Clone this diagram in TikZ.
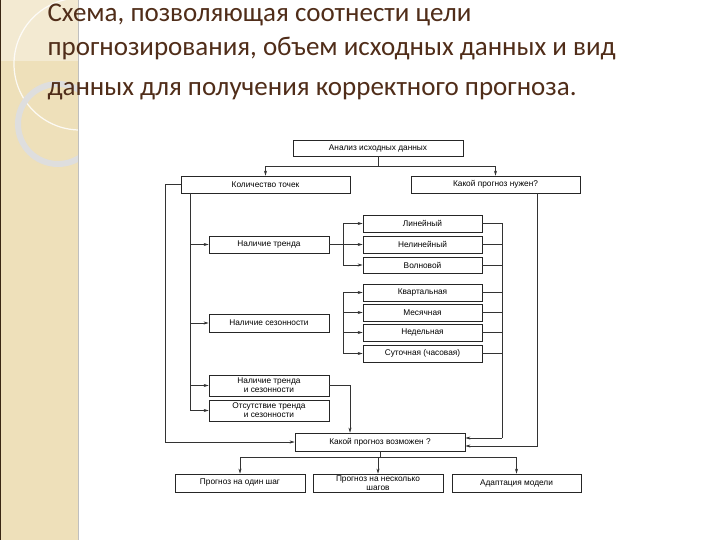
\documentclass[tikz,border=0pt]{standalone}
\usepackage{fontspec}
\setmainfont{Liberation Sans}
\newfontfamily\titlefont{Carlito}
\usetikzlibrary{arrows.meta}
\definecolor{beige}{RGB}{238,224,186}
\definecolor{titlebrown}{RGB}{80,45,25}
\begin{document}
\begin{tikzpicture}[x=1pt,y=-1pt,
  bx/.style={draw=black!85,line width=0.7pt,fill=white,inner sep=0pt,font=\fontsize{8.3}{9}\selectfont,align=center},
  ln/.style={draw=black!80,line width=0.6pt},
  ar/.style={ln,-{Stealth[length=5pt,width=3pt]}},
  tt/.style={anchor=west,text=titlebrown,font=\titlefont\fontsize{27}{30}\selectfont}]
\useasboundingbox (0,0) rectangle (720,540);
\fill[white] (0,0) rectangle (720,540);
% left panel
\fill[beige] (0,0) rectangle (78,540);
\begin{scope}
\clip (0,0) rectangle (78,540);
\fill[white,opacity=0.35] (0,0) rectangle (78,61);
\draw[white,line width=1.2pt,opacity=0.85] (80,64) circle[radius=66];
\draw[black!13,line width=6pt] (58,124) circle[radius=40];
\end{scope}
\draw[black!70!brown,line width=0.8pt] (0.5,0) -- (0.5,540);
\draw[black!25,line width=1pt] (78,0) -- (78,540);
% title
\node[tt] (t1) at (44,15) {Схема, позволяющая соотнести цели};
\node[tt] (t2) at (44,49) {прогнозирования, объем исходных данных и вид};
\node[tt] (t3) at (44,91) {данных для получения корректного прогноза.};
% boxes
\node[bx,minimum width=170,minimum height=16] (a) at (378,148) {Анализ исходных данных};
\node[bx,minimum width=169,minimum height=17] (k) at (265.5,184.5) {Количество точек};
\node[bx,minimum width=169,minimum height=17] (n) at (495.5,184.5) {Какой прогноз нужен?};
\node[bx,minimum width=120,minimum height=17] (tr) at (269,244.5) {Наличие тренда};
\node[bx,minimum width=119,minimum height=17] (l1) at (422.5,223.5) {Линейный};
\node[bx,minimum width=119,minimum height=17] (l2) at (422.5,244.5) {Нелинейный};
\node[bx,minimum width=119,minimum height=16] (l3) at (422.5,265) {Волновой};
\node[bx,minimum width=119,minimum height=17] (s1) at (422.5,292.5) {Квартальная};
\node[bx,minimum width=119,minimum height=17] (s2) at (422.5,312.5) {Месячная};
\node[bx,minimum width=119,minimum height=17] (s3) at (422.5,332.5) {Недельная};
\node[bx,minimum width=119,minimum height=17] (s4) at (422.5,353.5) {Суточная (часовая)};
\node[bx,minimum width=120,minimum height=18] (se) at (269,323) {Наличие сезонности};
\node[bx,minimum width=120,minimum height=21] (ts) at (269,385.5) {Наличие тренда\\и сезонности};
\node[bx,minimum width=120,minimum height=21] (ot) at (269,410.5) {Отсутствие тренда\\и сезонности};
\node[bx,minimum width=170,minimum height=18] (v) at (380,442) {Какой прогноз возможен ?};
\node[bx,minimum width=130,minimum height=18] (o1) at (240,483) {Прогноз на один шаг};
\node[bx,minimum width=130,minimum height=18] (o2) at (378,483) {Прогноз на несколько\\шагов};
\node[bx,minimum width=129,minimum height=18] (o3) at (516.5,483) {Адаптация модели};
% connectors
\coordinate (a1) at (378,166);
\draw[ln] (a.south) -- (a1);
\draw[ar] (a1) -| (k.north);
\draw[ar] (a1) -| (n.north);
\draw[ar] (k.west) -| (165,442) -- (v.west);
\coordinate (kb) at (190,193);
\draw[ln] (kb) -- (190,410.5);
\draw[ar] (190,244.5) -- (tr.west);
\draw[ar] (190,323) -- (se.west);
\draw[ar] (190,385.5) -- (ts.west);
\draw[ar] (190,410.5) -- (ot.west);
\draw[ln] (tr.east) -- (343,244.5);
\draw[ln] (343,223.5) -- (343,265);
\draw[ar] (343,223.5) -- (l1.west);
\draw[ar] (343,244.5) -- (l2.west);
\draw[ar] (343,265) -- (l3.west);
\draw[ln] (343,292.5) -- (343,353.5);
\draw[ar] (343,292.5) -- (s1.west);
\draw[ar] (343,312.5) -- (s2.west);
\draw[ar] (343,332.5) -- (s3.west);
\draw[ar] (343,353.5) -- (s4.west);
\foreach \b in {l1,l2,l3,s1,s2,s3,s4} {\draw[ln] (\b.east) -- (502,0|-\b.east);}
\draw[ln] (502,223.5) -- (502,438);
\draw[ar] (502,438) -- (v.east|-0,438);
\draw[ar] (n.south -| 537,0) -- (537,446) -- (v.east|-0,446);
\draw[ar] (ts.east) -- (350,385.5) -- (350,0|-v.north);
\coordinate (vb) at (380,457);
\draw[ln] (v.south) -- (vb);
\draw[ar] (vb) -| (o1.north);
\draw[ar] (vb) -| (o2.north);
\draw[ar] (vb) -| (o3.north);
\end{tikzpicture}
\end{document}
